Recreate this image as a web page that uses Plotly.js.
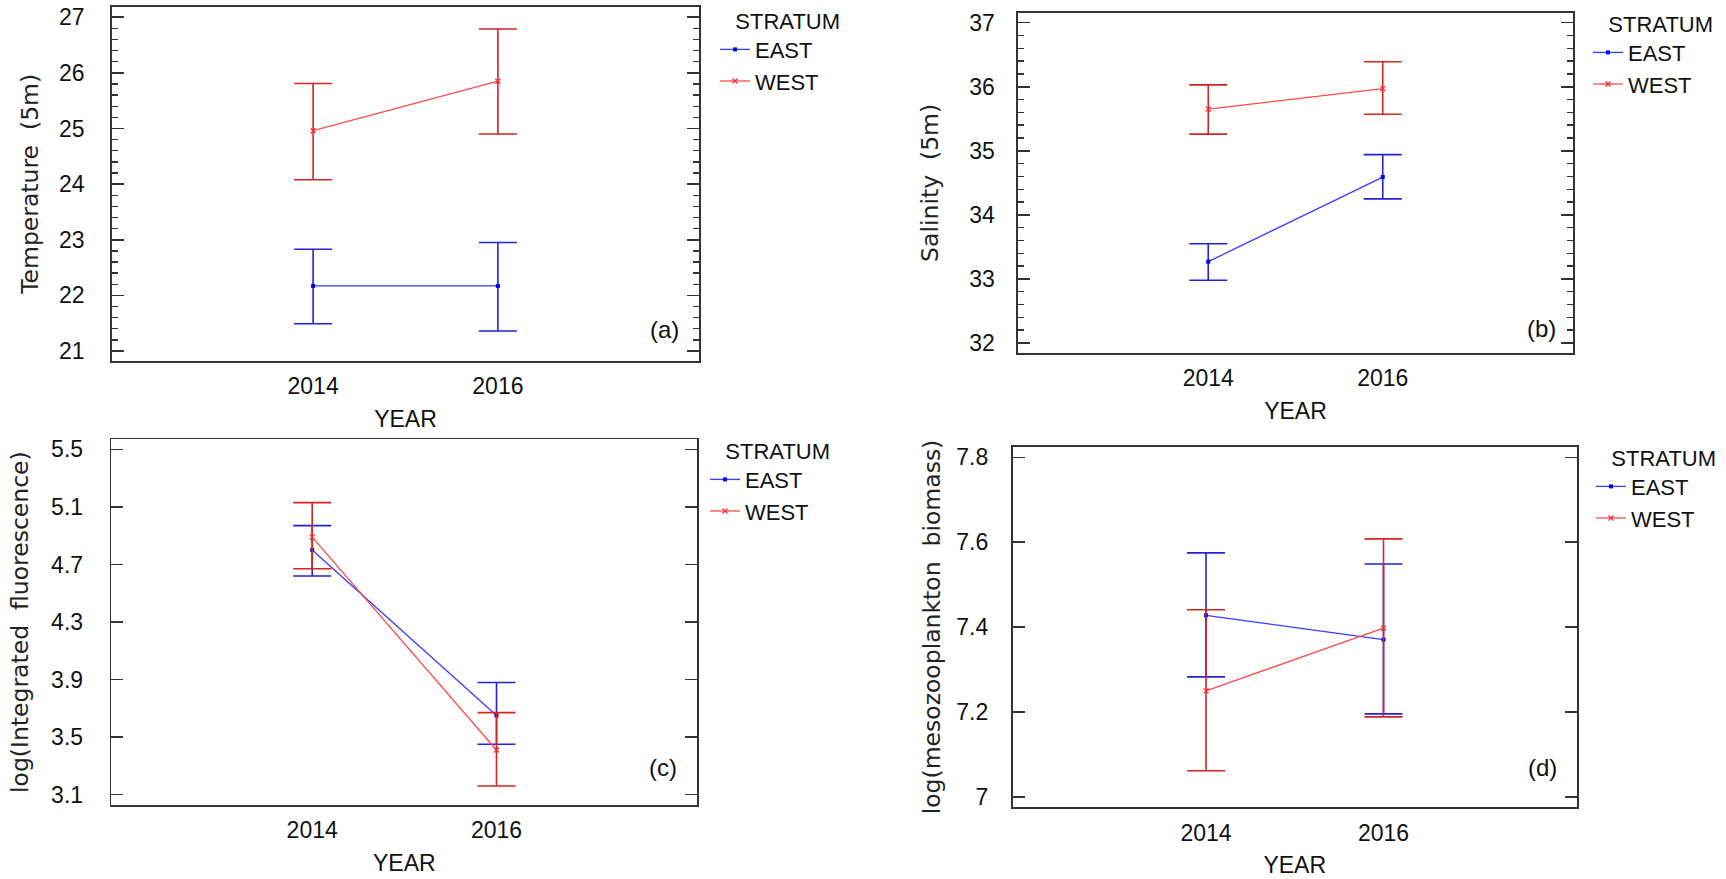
<!DOCTYPE html>
<html>
<head>
<meta charset="utf-8">
<script src="https://cdn.plot.ly/plotly-3.0.1.min.js"></script>
<style>
  html, body { margin: 0; padding: 0; background: #fff; }
  #chart { width: 1726px; height: 879px; }
</style>
</head>
<body>
<div id="chart"></div>
<script>
// ---------- data ----------
const years = [2014, 2016];
const xTickLabels = ['2014', '2016'];
const strata = ['EAST', 'WEST'];

// (a) Temperature (5m)
const tempEastMean  = [22.17, 22.17];
const tempEastUpper = [22.83, 22.95];
const tempEastLower = [21.49, 21.36];
const tempWestMean  = [24.96, 25.85];
const tempWestUpper = [25.81, 26.79];
const tempWestLower = [24.08, 24.90];

// (b) Salinity (5m)
const salEastMean  = [33.27, 34.59];
const salEastUpper = [33.55, 34.94];
const salEastLower = [32.98, 34.25];
const salWestMean  = [35.65, 35.97];
const salWestUpper = [36.03, 36.39];
const salWestLower = [35.26, 35.57];

// (c) log(Integrated fluorescence)
const fluoEastMean  = [4.80, 3.65];
const fluoEastUpper = [4.97, 3.88];
const fluoEastLower = [4.62, 3.45];
const fluoWestMean  = [4.89, 3.41];
const fluoWestUpper = [5.13, 3.67];
const fluoWestLower = [4.67, 3.16];

// (d) log(mesozooplankton biomass)
const bioEastMean  = [7.428, 7.371];
const bioEastUpper = [7.575, 7.549];
const bioEastLower = [7.283, 7.196];
const bioWestMean  = [7.250, 7.398];
const bioWestUpper = [7.441, 7.608];
const bioWestLower = [7.062, 7.189];

// ---------- styling ----------
const W = 1726, H = 879, MT = 6;
const NARROW = '"Liberation Sans Narrow", "Arial Narrow", "Liberation Sans", Arial, sans-serif';
const WIDE = '"DejaVu Sans", Verdana, sans-serif';
const BLUE_LINE = '#3a3aff', RED_LINE = '#ff4a4a';
const BLUE_ERR = '#2323d6', RED_ERR = '#d62323';
const AXIS_COL = '#333';
const fx = p => p / W;
const fy = p => 1 - (p - MT) / (H - MT);

function diff(a, b) { return a.map((v, i) => +(v - b[i]).toFixed(4)); }

function makeTrace(name, mean, upper, lower, xa, ya, legend, isEast) {
  return {
    type: 'scatter', mode: 'lines+markers', name: name,
    x: years, y: mean, xaxis: xa, yaxis: ya, legend: legend,
    line: { color: isEast ? BLUE_LINE : RED_LINE, width: 1.3 },
    marker: isEast ? { symbol: 'square', size: 4, color: '#0000ff' }
                   : { symbol: 'x-thin', size: 5, color: '#ff2a2a', line: { width: 1.2, color: '#ff2a2a' } },
    error_y: {
      type: 'data', symmetric: false,
      array: diff(upper, mean), arrayminus: diff(mean, lower),
      color: isEast ? BLUE_ERR : RED_ERR, thickness: 1.6, width: 19
    },
    hoverinfo: 'x+y'
  };
}

const data = [
  makeTrace(strata[0], tempEastMean, tempEastUpper, tempEastLower, 'x', 'y', 'legend', true),
  makeTrace(strata[1], tempWestMean, tempWestUpper, tempWestLower, 'x', 'y', 'legend', false),
  makeTrace(strata[0], salEastMean, salEastUpper, salEastLower, 'x2', 'y2', 'legend2', true),
  makeTrace(strata[1], salWestMean, salWestUpper, salWestLower, 'x2', 'y2', 'legend2', false),
  makeTrace(strata[0], fluoEastMean, fluoEastUpper, fluoEastLower, 'x3', 'y3', 'legend3', true),
  makeTrace(strata[1], fluoWestMean, fluoWestUpper, fluoWestLower, 'x3', 'y3', 'legend3', false),
  makeTrace(strata[0], bioEastMean, bioEastUpper, bioEastLower, 'x4', 'y4', 'legend4', true),
  makeTrace(strata[1], bioWestMean, bioWestUpper, bioWestLower, 'x4', 'y4', 'legend4', false)
];

function xAxis(l, r, anchor) {
  return {
    domain: [fx(l), fx(r)], anchor: anchor,
    range: [2011.82, 2018.18], tickvals: years, ticktext: xTickLabels,
    ticks: '', showline: true, mirror: true, linecolor: AXIS_COL, linewidth: 1.6,
    showgrid: false, zeroline: false, ticklabelstandoff: 4,
    tickfont: { family: NARROW, size: 23, color: '#111' },
    title: { text: 'YEAR', font: { family: NARROW, size: 23, color: '#111' }, standoff: 12 }
  };
}
function yAxis(t, b, anchor, range, dtick, tick0, minorDtick, title, standoff, labelOff) {
  const ax = {
    domain: [fy(b), fy(t)], anchor: anchor, range: range,
    tick0: tick0, dtick: dtick,
    ticks: 'inside', ticklen: 12, tickwidth: 1.6, tickcolor: AXIS_COL,
    showline: true, mirror: 'ticks', linecolor: AXIS_COL, linewidth: 1.6,
    showgrid: false, zeroline: false, ticklabelstandoff: labelOff,
    tickfont: { family: NARROW, size: 23, color: '#111' },
    title: { text: title, font: { family: WIDE, size: 23.5, color: '#222' }, standoff: standoff }
  };
  if (minorDtick) {
    ax.minor = { dtick: minorDtick, ticks: 'inside', ticklen: 6, tickwidth: 1.4, tickcolor: AXIS_COL, showgrid: false };
  }
  return ax;
}

function legendAt(lineStartPx, topPx) {
  return {
    x: fx(lineStartPx - 6), y: fy(topPx), xanchor: 'left', yanchor: 'top',
    bgcolor: 'rgba(0,0,0,0)', borderwidth: 0, tracegroupgap: 0, itemwidth: 30,
    font: { family: NARROW, size: 22, color: '#111' },
    title: { text: '\u00a0\u00a0\u00a0STRATUM', font: { family: NARROW, size: 22, color: '#111' } }
  };
}

function panelLabel(text, centerPx, midPx) {
  return {
    text: text, xref: 'paper', yref: 'paper', x: fx(centerPx), y: fy(midPx),
    xanchor: 'center', yanchor: 'middle', showarrow: false,
    font: { family: NARROW, size: 24, color: '#111' }
  };
}

const layout = {
  width: W, height: H,
  margin: { l: 0, r: 0, t: MT, b: 0 },
  paper_bgcolor: '#fff', plot_bgcolor: '#fff',
  showlegend: true,
  xaxis:  xAxis(111.7, 699.3, 'y'),
  yaxis:  yAxis(6.7, 361, 'x', [20.82, 27.19], 1, 21, 0.2, 'Temperature\u00a0\u00a0(5m)', 13, 21),
  xaxis2: xAxis(1018, 1573, 'y2'),
  yaxis2: yAxis(12.7, 353, 'x2', [31.844, 37.156], 1, 32, 0.2, 'Salinity\u00a0\u00a0(5m)', 24, 17),
  xaxis3: xAxis(111.3, 697.4, 'y3'),
  yaxis3: yAxis(439.3, 805, 'x3', [3.028, 5.57], 0.4, 3.1, null, 'log(Integrated\u00a0\u00a0fluorescence)', 16, 22),
  xaxis4: xAxis(1012.5, 1577, 'y4'),
  yaxis4: yAxis(446.7, 807.3, 'x4', [6.976, 7.825], 0.2, 7, null, 'log(mesozooplankton\u00a0\u00a0biomass)', 9, 18),
  legend:  legendAt(721, 0),
  legend2: legendAt(1594, 3),
  legend3: legendAt(711, 430),
  legend4: legendAt(1597, 437),
  annotations: [
    panelLabel('(a)', 664, 329),
    panelLabel('(b)', 1541, 328),
    panelLabel('(c)', 663, 767),
    panelLabel('(d)', 1542, 767)
  ]
};

Plotly.newPlot('chart', data, layout, { displayModeBar: false, staticPlot: true });
</script>
</body>
</html>
